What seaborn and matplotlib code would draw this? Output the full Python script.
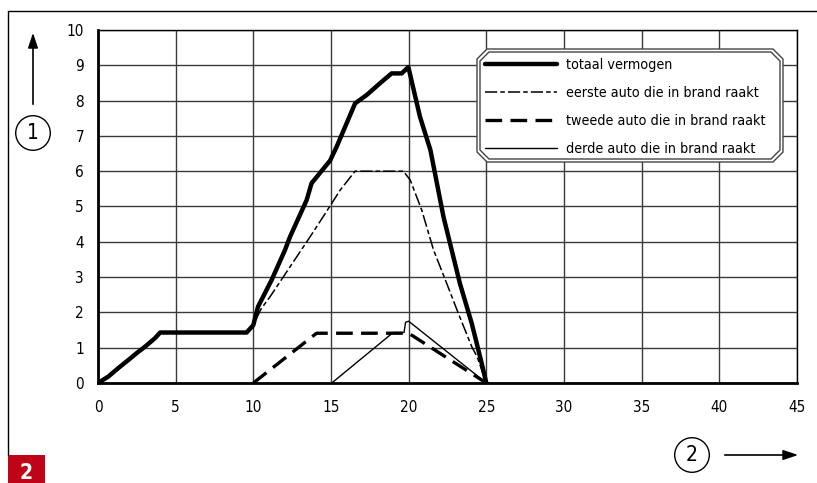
import matplotlib
matplotlib.use('Agg')
import matplotlib.pyplot as plt
import seaborn as sns
from matplotlib.patches import Polygon, Rectangle

# data
totaal_x = [0, 0.66, 1.3, 1.95, 2.5, 3.03, 3.67, 4.0, 9.57, 10.0, 10.3, 11.18, 12.04,
            12.36, 13.43, 13.75, 14.94, 15.37, 16.55, 17.3, 18.15, 18.9, 19.55, 19.98,
            20.73, 21.4, 22.24, 23.3, 24.06, 24.7, 25]
totaal_y = [0, 0.18, 0.42, 0.65, 0.85, 1.03, 1.27, 1.43, 1.43, 1.64, 2.16, 2.92, 3.77,
            4.14, 5.18, 5.66, 6.3, 6.7, 7.92, 8.16, 8.49, 8.77, 8.77, 8.95,
            7.54, 6.6, 4.71, 2.82, 1.69, 0.56, 0]

eerste_x = [0, 0.66, 1.3, 1.95, 2.5, 3.03, 3.67, 4.0, 9.57, 10.0, 10.5, 11.07, 12.36,
            13.65, 14.7, 15.6, 16.55, 19.66, 20.1, 20.84, 21.6, 22.45, 23.2, 24.06, 24.4, 25]
eerste_y = [0, 0.18, 0.42, 0.65, 0.85, 1.03, 1.27, 1.43, 1.43, 1.64, 2.1, 2.44, 3.29,
            4.14, 4.85, 5.47, 6.0, 6.0, 5.75, 4.9, 3.77, 2.82, 1.97, 1.03, 0.75, 0]

tweede_x = [10, 14.07, 20.0, 25]
tweede_y = [0, 1.41, 1.41, 0]

derde_x = [15.05, 19.0, 19.7, 19.8, 20.0, 25]
derde_y = [0, 1.43, 1.43, 1.72, 1.75, 0]

labels = ['totaal vermogen', 'eerste auto die in brand raakt',
          'tweede auto die in brand raakt', 'derde auto die in brand raakt']
x_ticks = [0, 5, 10, 15, 20, 25, 30, 35, 40, 45]
y_ticks = list(range(0, 11))

sns.set_style('white')
plt.rcParams['font.family'] = ['DejaVu Sans']
plt.rcParams['font.stretch'] = 'condensed'
plt.rcParams['text.color'] = 'black'
plt.rcParams['xtick.labelcolor'] = 'black'
plt.rcParams['ytick.labelcolor'] = 'black'

W, H = 817, 483
fig = plt.figure(figsize=(W / 100, H / 100), dpi=100)
ax = fig.add_axes([98 / W, 1 - 383 / H, (797 - 98) / W, (383 - 30) / H])

ax.set_xlim(0, 45)
ax.set_ylim(0, 10)
ax.set_xticks(x_ticks)
ax.set_yticks(y_ticks)
ax.grid(True, color='#3a3a3a', linewidth=1.0)
ax.set_axisbelow(True)
ax.tick_params(axis='both', length=6, width=1, color='black', labelcolor='black',
               labelsize=11, pad=4)
ax.tick_params(axis='x', pad=6)
for side, sp in ax.spines.items():
    sp.set_color('black')
    sp.set_linewidth(1.0)
ax.spines['left'].set_linewidth(2.0)
ax.spines['bottom'].set_linewidth(2.0)

sns.lineplot(x=totaal_x, y=totaal_y, ax=ax, sort=False, estimator=None,
             color='black', linewidth=3.2, label=labels[0], zorder=5)
sns.lineplot(x=eerste_x, y=eerste_y, ax=ax, sort=False, estimator=None,
             color='black', linewidth=1.1, label=labels[1], zorder=4)
ax.lines[-1].set_dashes([8, 2, 3, 2])
sns.lineplot(x=tweede_x, y=tweede_y, ax=ax, sort=False, estimator=None,
             color='black', linewidth=2.4, label=labels[2], zorder=4)
ax.lines[-1].set_dashes([5, 2.5])
sns.lineplot(x=derde_x, y=derde_y, ax=ax, sort=False, estimator=None,
             color='black', linewidth=1.0, label=labels[3], zorder=4)
ax.set_xlabel('')
ax.set_ylabel('')
handles, leg_labels = ax.get_legend_handles_labels()
ax.get_legend().remove()

# chamfered double-line legend frame
def chamfer(x0, y0, x1, y1, c):
    pts = [(x0 + c, y0), (x1 - c, y0), (x1, y0 + c), (x1, y1 - c),
           (x1 - c, y1), (x0 + c, y1), (x0, y1 - c), (x0, y0 + c)]
    return [(px / W, 1 - py / H) for px, py in pts]

fig.patches.append(Polygon(chamfer(477, 49, 783, 162, 10), closed=True, fc='white',
                           ec='#444444', lw=1.0, transform=fig.transFigure, zorder=6))
fig.patches.append(Polygon(chamfer(480, 52, 780, 159, 9), closed=True, fc='none',
                           ec='#444444', lw=1.0, transform=fig.transFigure, zorder=7))

leg = fig.legend(handles, leg_labels, loc='upper left', bbox_to_anchor=(478 / W, 1 - 51 / H),
                 bbox_transform=fig.transFigure, frameon=False, fontsize=10.3,
                 handlelength=5.0, handletextpad=0.63, labelspacing=0.98, borderpad=0)
leg.set_zorder(20)

# outer frame of the figure
fig.add_artist(plt.Line2D([8 / W, 1], [1 - 11 / H, 1 - 11 / H], color='black', lw=1.0,
                          transform=fig.transFigure))
fig.add_artist(plt.Line2D([8 / W, 8 / W], [1 - 11 / H, 1 - 455 / H], color='black', lw=1.0,
                          transform=fig.transFigure))
fig.patches.append(Rectangle((8 / W, 0), 37 / W, 28 / H, fc='#c00418', ec='none',
                             transform=fig.transFigure))
fig.text(26.5 / W, 10 / H, '2', color='white', fontsize=15, fontweight='bold',
         family='DejaVu Sans', ha='center', va='center')

# axis markers: circled numbers with arrows
fig.text(33 / W, 1 - 133 / H, '1', fontsize=15, ha='center', va='center',
         bbox=dict(boxstyle='circle,pad=0.35', fc='white', ec='black', lw=1.0))
ax.annotate('', xy=(33, H - 30), xytext=(33, H - 107), xycoords='figure pixels',
            textcoords='figure pixels',
            arrowprops=dict(arrowstyle='-|>,head_length=0.9,head_width=0.3', color='black', lw=1.2))
fig.text(692 / W, 1 - 455 / H, '2', fontsize=15, ha='center', va='center',
         bbox=dict(boxstyle='circle,pad=0.35', fc='white', ec='black', lw=1.0))
ax.annotate('', xy=(801, H - 455), xytext=(722, H - 455), xycoords='figure pixels',
            textcoords='figure pixels',
            arrowprops=dict(arrowstyle='-|>,head_length=0.9,head_width=0.3', color='black', lw=1.2))

fig.savefig('out.png', dpi=100)
